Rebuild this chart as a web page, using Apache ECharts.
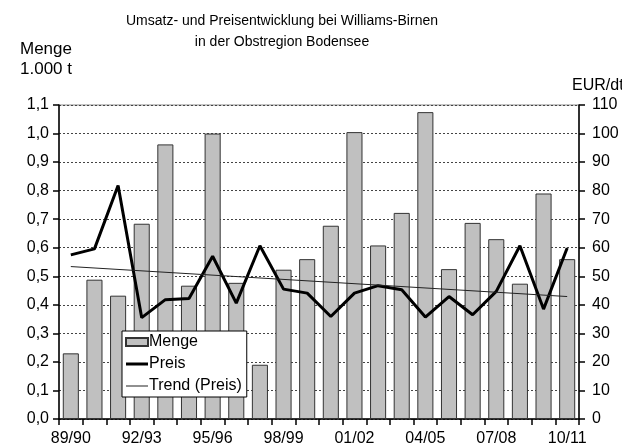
<!DOCTYPE html>
<html>
<head>
<meta charset="utf-8">
<script src="https://cdn.jsdelivr.net/npm/echarts@6/dist/echarts.min.js"></script>
<style>
  html, body { margin: 0; padding: 0; background: #fff; }
  #chart { width: 622px; height: 448px; }
</style>
</head>
<body>
<div id="chart"></div>
<script>
const categories = ["89/90","90/91","91/92","92/93","93/94","94/95","95/96","96/97","97/98","98/99","99/00",
                    "00/01","01/02","02/03","03/04","04/05","05/06","06/07","07/08","08/09","09/10","10/11"];
const menge = [0.23,0.488,0.432,0.684,0.962,0.467,1.0,0.477,0.19,0.523,0.56,
               0.677,1.005,0.608,0.722,1.075,0.525,0.687,0.63,0.474,0.79,0.56];
const preis = [57.5,59.6,81.8,35.5,41.8,42.2,57,40.6,60.7,45.5,44.1,
               35.9,44.1,46.7,45.3,35.7,42.9,36.5,44.7,60.7,38.5,59.9];
// Trendlinie: Anfangs- und Endwert
const trend = [[0, 53.4], [21, 42.9]];

const font = 'Liberation Sans, Arial, sans-serif';
const chart = echarts.init(document.getElementById('chart'));

// Legendensymbole als Linie (kleine Eckpunkte halten die Box 22x8)
const lineIcon = h => 'path://M0,0h0.01v0.01h-0.01z M0,' + (4 - h / 2) + 'h22v' + h + 'h-22z M21.99,7.99h0.01v0.01h-0.01z';

const option = {
  animation: false,
  textStyle: { fontFamily: font, color: '#000' },
  title: {
    text: 'Umsatz- und Preisentwicklung bei Williams-Birnen\nin der Obstregion Bodensee',
    left: 277, top: 6, textAlign: 'center',
    textStyle: { fontSize: 14, fontWeight: 'normal', lineHeight: 21, color: '#000', fontFamily: font }
  },
  graphic: [
    { type: 'text', left: 20, top: 39, style: { text: 'Menge\n1.000 t', font: '17px ' + font, lineHeight: 20, fill: '#000' } },
    { type: 'text', left: 572, top: 78, style: { text: 'EUR/dt', font: '16px ' + font, fill: '#000' } }
  ],
  legend: {
    left: 122, top: 331, orient: 'vertical',
    backgroundColor: '#fff', borderColor: '#000', borderWidth: 1,
    padding: [3, 5, 3, 3], itemGap: 6, itemWidth: 22, itemHeight: 8,
    textStyle: { fontSize: 16, color: '#000', fontFamily: font, padding: [0, 0, 0, -4] },
    data: [
      { name: 'Menge', icon: 'rect' },
      { name: 'Preis', icon: lineIcon(3) },
      { name: 'Trend (Preis)', icon: lineIcon(1) }
    ]
  },
  grid: { left: 59, right: 43, top: 105, bottom: 29, show: true, borderColor: '#888', borderWidth: 1 },
  xAxis: {
    type: 'category',
    data: categories,
    axisLine: { lineStyle: { color: '#000', width: 1.5 } },
    axisTick: { show: true, length: 6, interval: 0, lineStyle: { color: '#000', width: 1.5 } },
    axisLabel: { interval: 2, fontSize: 16, color: '#000', margin: 12 }
  },
  yAxis: [
    {
      type: 'value', min: 0, max: 1.1, interval: 0.1,
      axisLine: { show: true, lineStyle: { color: '#000', width: 1.5 } },
      axisTick: { show: true, length: 6, lineStyle: { color: '#000', width: 1.5 } },
      axisLabel: { fontSize: 16, color: '#000', margin: 10, formatter: v => v.toFixed(1).replace('.', ',') },
      splitLine: { show: true, lineStyle: { color: '#444', type: [2, 2], width: 1 } }
    },
    {
      type: 'value', min: 0, max: 110, interval: 10,
      axisLine: { show: true, lineStyle: { color: '#000', width: 1.5 } },
      axisTick: { show: true, length: 6, lineStyle: { color: '#000', width: 1.5 } },
      axisLabel: { fontSize: 16, color: '#000', margin: 13 },
      splitLine: { show: false }
    }
  ],
  series: [
    {
      name: 'Menge', type: 'bar', data: menge, barCategoryGap: '32%',
      itemStyle: { color: '#c0c0c0', borderColor: '#333', borderWidth: 1 }
    },
    {
      name: 'Preis', type: 'line', yAxisIndex: 1, data: preis,
      symbol: 'none', lineStyle: { color: '#000', width: 3 }, itemStyle: { color: '#000' }
    },
    {
      name: 'Trend (Preis)', type: 'line', yAxisIndex: 1, data: trend,
      symbol: 'none', lineStyle: { color: '#222', width: 1 }, itemStyle: { color: '#222' }
    }
  ]
};

chart.setOption(option);
</script>
</body>
</html>
